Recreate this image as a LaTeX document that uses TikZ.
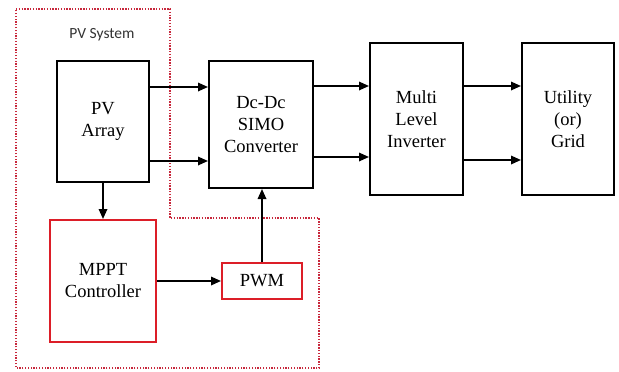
\documentclass[tikz,border=0pt]{standalone}
\usepackage{fontspec}
\setmainfont{Liberation Serif}
\newfontfamily\boxfont{Liberation Serif}
\newfontfamily\labelfont{Carlito}
\usetikzlibrary{arrows.meta,calc}
\definecolor{boxred}{RGB}{220,30,40}
\definecolor{dotred}{RGB}{200,40,60}
\begin{document}
\begin{tikzpicture}[x=1pt,y=-1pt,
  blk/.style={draw=black,line width=2pt,align=center,inner sep=0pt,font=\boxfont\fontsize{18.5}{22}\selectfont},
  redblk/.style={draw=boxred,line width=2pt,align=center,inner sep=0pt,font=\boxfont\fontsize{18.5}{22}\selectfont},
  arr/.style={line width=1.7pt,-{Triangle[length=10pt,width=8.5pt]}}]
\useasboundingbox[fill=white] (0,0) rectangle (619,372);
% dotted PV system region
\draw[dotred,line width=1.7pt,dash pattern=on 1.3pt off 1.5pt] (16,9) -- (170,9) -- (170,218) -- (319,218) -- (319,368) -- (16,368) -- cycle;
\node[font=\labelfont\fontsize{15.5}{18}\selectfont,text=black!80] (sys) at (102,35) {PV System};
\node[blk,minimum width=92pt,minimum height=121pt] (pv) at (103,121.5) {PV\\Array};
\node[blk,minimum width=104pt,minimum height=127pt] (dc) at (261,124.5) {Dc-Dc\\SIMO\\Converter};
\node[blk,minimum width=93pt,minimum height=152pt] (mli) at (416.5,119) {Multi\\Level\\Inverter};
\node[blk,minimum width=92pt,minimum height=152pt] (ut) at (568,119) {Utility\\(or)\\Grid};
\node[redblk,minimum width=106pt,minimum height=122pt] (mppt) at (103,281) {MPPT\\Controller};
\node[redblk,minimum width=80pt,minimum height=36pt] (pwm) at (262,281) {PWM};
\coordinate (ya) at (0,87);
\coordinate (yb) at (0,161);
\coordinate (yc) at (0,86);
\coordinate (yd) at (0,157);
\coordinate (ye) at (0,160);
\draw[arr] (pv.east |- ya) -- (dc.west |- ya);
\draw[arr] (pv.east |- yb) -- (dc.west |- yb);
\draw[arr] (dc.east |- yc) -- (mli.west |- yc);
\draw[arr] (dc.east |- yd) -- (mli.west |- yd);
\draw[arr] (mli.east |- yc) -- (ut.west |- yc);
\draw[arr] (mli.east |- ye) -- (ut.west |- ye);
\draw[arr] (pv.south) -- (mppt.north);
\draw[arr] (mppt.east) -- (pwm.west);
\draw[arr] (pwm.north) -- (pwm.north |- dc.south);
\end{tikzpicture}
\end{document}
